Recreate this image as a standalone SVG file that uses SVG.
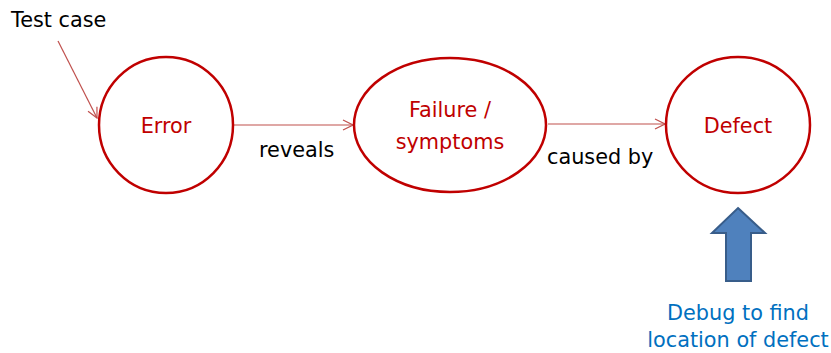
<svg xmlns="http://www.w3.org/2000/svg" width="831" height="353" viewBox="0 0 831 353">
  <style>
    text { font-family: "DejaVu Sans", Verdana, sans-serif; font-size: 20.8px; }
    .node { fill: #ffffff; stroke: #c00000; stroke-width: 2.5; }
    .label { fill: #c00000; text-anchor: middle; }
    .edge { fill: none; stroke: #c0504d; stroke-width: 1.2; marker-end: url(#head); }
    .note { fill: #000000; }
    .blue { fill: #0070c0; text-anchor: middle; }
  </style>
  <defs>
    <marker id="head" viewBox="0 0 12 12" refX="11" refY="6" markerWidth="12" markerHeight="12" markerUnits="userSpaceOnUse" orient="auto">
      <path d="M1,1 L11,6 L1,11" fill="none" stroke="#c0504d" stroke-width="1.2"/>
    </marker>
  </defs>
  <rect width="831" height="353" fill="#ffffff"/>

  <g id="connectors">
    <line class="edge" x1="58" y1="41" x2="97" y2="118"/>
    <line class="edge" x1="234" y1="125" x2="353" y2="125"/>
    <line class="edge" x1="548" y1="124" x2="665" y2="124"/>
    <text class="note" x="259" y="157">reveals</text>
    <text class="note" x="547" y="164">caused by</text>
  </g>

  <g id="test-case">
    <text class="note" x="11" y="27">Test case</text>
  </g>

  <g id="error">
    <ellipse class="node" cx="166" cy="125" rx="67" ry="68"/>
    <text class="label" x="166" y="133">Error</text>
  </g>

  <g id="failure">
    <ellipse class="node" cx="450" cy="125" rx="96" ry="67"/>
    <text class="label" x="450" y="117">Failure /</text>
    <text class="label" x="450" y="149">symptoms</text>
  </g>

  <g id="defect">
    <ellipse class="node" cx="738" cy="125" rx="72" ry="68"/>
    <text class="label" x="738" y="133">Defect</text>
  </g>

  <g id="debug">
    <path d="M738,208 L765,233 L751,233 L751,281 L726,281 L726,233 L712,233 Z" fill="#4f81bd" stroke="#385d8a" stroke-width="2" stroke-linejoin="miter"/>
    <text class="blue" x="738" y="320">Debug to find</text>
    <text class="blue" x="738" y="347">location of defect</text>
  </g>
</svg>
